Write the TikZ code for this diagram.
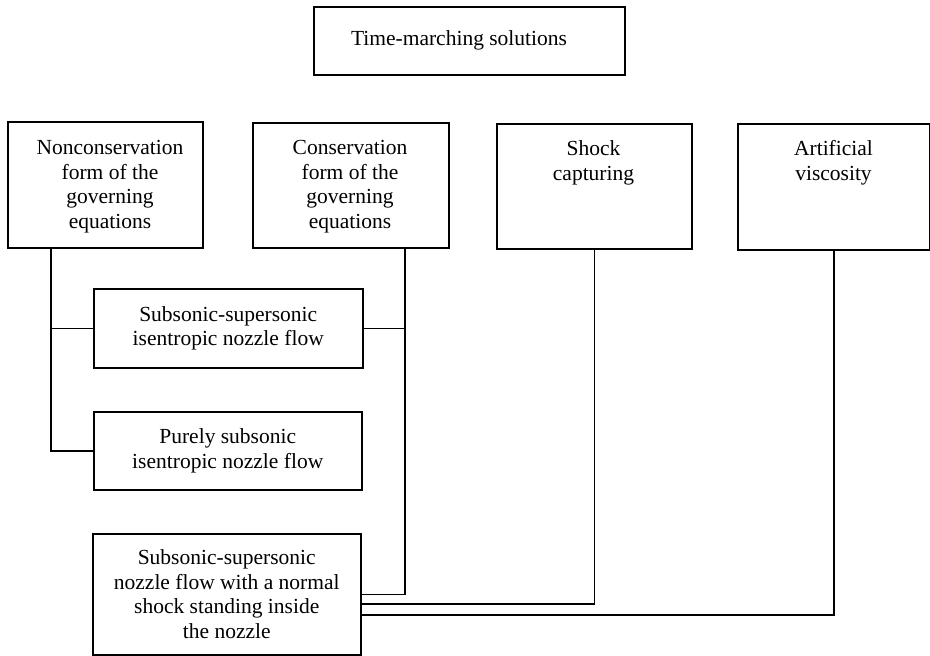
\documentclass[tikz,border=0pt]{standalone}
\usepackage{fontspec}
\setmainfont{Liberation Serif}
\usetikzlibrary{calc}
\begin{document}
\begin{tikzpicture}[x=1pt,y=-1pt, line width=1.5pt,
  box/.style={draw, rectangle, inner sep=0pt, anchor=north west},
  txt/.style={font=\fontsize{21.5}{24.5}\selectfont, align=center, inner sep=0pt}]
\useasboundingbox (0,0) rectangle (930,656);
% top box
\node[box, minimum width=311pt, minimum height=68pt] (top) at (313,6) {};
\node[txt] (topt) at (459,40) {Time-marching solutions};
% row of boxes
\node[box, minimum width=195pt, minimum height=126pt] (b1) at (7,121) {};
\node[txt, anchor=north] (b1t) at (110,140) {Nonconservation\\form of the\\governing\\equations};
\node[box, minimum width=196pt, minimum height=125pt] (b2) at (252,122) {};
\node[txt, anchor=north] (b2t) at (350,140) {Conservation\\form of the\\governing\\equations};
\node[box, minimum width=195pt, minimum height=125pt] (b3) at (496,123) {};
\node[txt, anchor=north] (b3t) at (593.5,140) {Shock\\capturing};
\node[box, minimum width=192pt, minimum height=126pt] (b4) at (737,123) {};
\node[txt, anchor=north] (b4t) at (833.5,140) {Artificial\\viscosity};
% middle boxes
\node[box, txt, minimum width=269pt, minimum height=79pt] (bA) at (93,288) {Subsonic-supersonic\\isentropic nozzle flow};
\node[box, txt, minimum width=268pt, minimum height=78pt] (bB) at (93,411) {Purely subsonic\\isentropic nozzle flow};
\node[box, txt, minimum width=268pt, minimum height=121pt] (bC) at (92,533) {Subsonic-supersonic\\nozzle flow with a normal\\shock standing inside\\the nozzle};
% connectors
\coordinate (x1) at (51,0);
\coordinate (x2) at (405,0);
\draw (b1.south -| x1) |- (bA.west);
\draw (b1.south -| x1) |- (bB.west);
\draw (b2.south -| x2) |- (bC.east);
\draw (bA.east) -- (bA.east -| x2);
\draw (b3.south) |- ([yshift=-9.5pt]bC.east);
\draw (b4.south) |- ([yshift=-20.5pt]bC.east);
\end{tikzpicture}
\end{document}
